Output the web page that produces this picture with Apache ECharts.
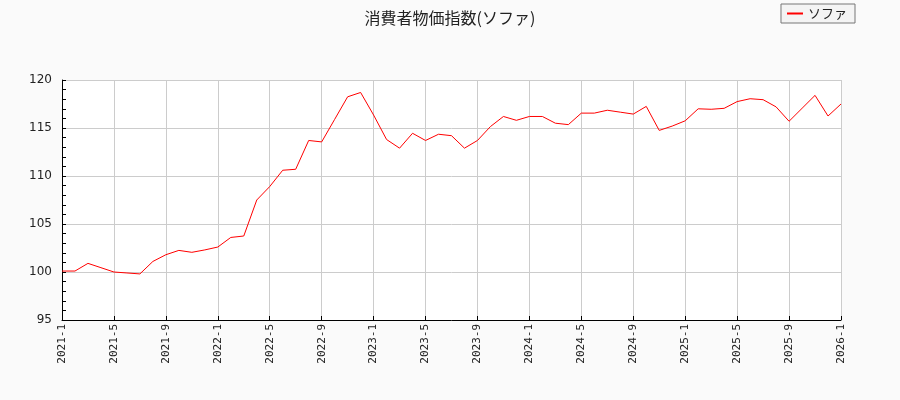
<!DOCTYPE html>
<html lang="ja">
<head>
<meta charset="UTF-8">
<script src="https://cdn.jsdelivr.net/npm/echarts@6/dist/echarts.min.js"></script>
<style>
  html, body { margin: 0; padding: 0; background: #fafafa; }
  #main { width: 900px; height: 400px; }
</style>
</head>
<body>
<div id="main"></div>
<script>
// 月次の消費者物価指数（ソファ）
var startYear = 2021;
var values = [
  100.1, 100.1, 100.9, 100.45, 100.0, 99.9, 99.8, 101.1, 101.8, 102.25,
  102.05, 102.3, 102.6, 103.6, 103.75, 107.5, 108.9, 110.6, 110.7, 113.7,
  113.55, 115.9, 118.25, 118.7, 116.35, 113.8, 112.9, 114.45, 113.7, 114.35,
  114.2, 112.9, 113.7, 115.15, 116.2, 115.8, 116.2, 116.2, 115.5, 115.35,
  116.55, 116.55, 116.85, 116.65, 116.45, 117.25, 114.75, 115.2, 115.75, 117.0,
  116.95, 117.05, 117.75, 118.05, 117.95, 117.2, 115.7, 117.05, 118.4, 116.25,
  117.5
];
var months = values.map(function (v, i) {
  var y = startYear + Math.floor(i / 12);
  var m = (i % 12) + 1;
  return y + '-' + m;
});
var yMin = 95, yMax = 120, yStep = 5;

var myChart = echarts.init(document.getElementById('main'));
var option = {
  backgroundColor: '#fafafa',
  animation: false,
  title: {
    text: '消費者物価指数(ソファ)',
    left: 'center',
    top: 5,
    textStyle: {
      fontFamily: 'Noto Sans CJK JP',
      fontSize: 16,
      fontWeight: 'normal',
      color: '#222'
    }
  },
  legend: {
    data: ['ソファ'],
    right: 45,
    top: 4,
    padding: [3, 8, 3, 6],
    backgroundColor: '#f4f4f4',
    borderColor: '#777',
    borderWidth: 1,
    borderRadius: 0,
    itemWidth: 16,
    itemHeight: 2,
    itemGap: 10,
    icon: 'rect',
    textStyle: {
      fontFamily: 'Noto Sans CJK JP',
      fontSize: 13,
      color: '#222'
    }
  },
  grid: {
    left: 62,
    right: 59,
    top: 80,
    bottom: 80,
    show: true,
    backgroundColor: '#ffffff',
    borderWidth: 0
  },
  xAxis: {
    type: 'category',
    data: months,
    boundaryGap: false,
    axisLine: { lineStyle: { color: '#000', width: 1 } },
    axisTick: { inside: true, length: 4, interval: 3, lineStyle: { color: '#000' } },
    axisLabel: {
      interval: 3,
      rotate: 90,
      fontFamily: 'DejaVu Sans Mono',
      fontSize: 11,
      color: '#222',
      margin: 4
    },
    splitLine: { show: true, interval: 3, lineStyle: { color: '#cccccc', width: 1 } }
  },
  yAxis: {
    type: 'value',
    min: yMin,
    max: yMax,
    interval: yStep,
    axisLine: { show: true, lineStyle: { color: '#000', width: 1 } },
    axisTick: { show: true, inside: true, length: 4, lineStyle: { color: '#000' } },
    minorTick: { show: true, splitNumber: 5, length: 4, lineStyle: { color: '#000' } },
    axisLabel: {
      fontFamily: 'DejaVu Sans',
      fontSize: 12,
      color: '#222',
      margin: 10
    },
    splitLine: { show: true, lineStyle: { color: '#cccccc', width: 1 } }
  },
  series: [{
    name: 'ソファ',
    type: 'line',
    data: values,
    showSymbol: false,
    symbol: 'none',
    lineStyle: { color: '#ff0000', width: 1 },
    itemStyle: { color: '#ff0000' }
  }]
};
myChart.setOption(option);
</script>
</body>
</html>
